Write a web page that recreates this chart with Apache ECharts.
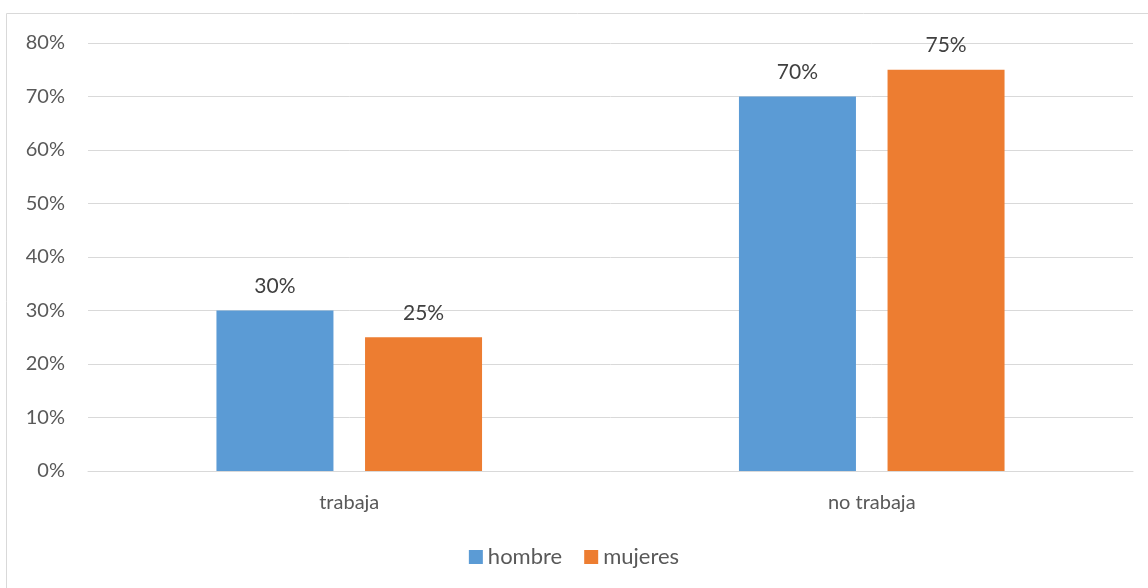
<!DOCTYPE html>
<html><head><meta charset="utf-8">
<script src="https://cdn.jsdelivr.net/npm/echarts@6/dist/echarts.min.js"></script>
<style>html,body{margin:0;padding:0;background:#fff}#c{width:1148px;height:588px}</style>
</head><body><div id="c"></div>
<script>
const categories = ['trabaja', 'no trabaja'];
const hombre = [30, 70];
const mujeres = [25, 75];
const seriesNames = ['hombre', 'mujeres'];

const FONT = 'Lato, "Open Sans", sans-serif';
const chart = echarts.init(document.getElementById('c'));
const labelOpt = {show: true, position: 'top', distance: 14, formatter: p => p.value + '%', color: '#404040', fontSize: 21, fontFamily: FONT};
chart.setOption({
  animation: false,
  graphic: [{type: 'rect', shape: {x: 6.5, y: 13.5, width: 1150, height: 590}, style: {fill: 'none', stroke: '#d9d9d9', lineWidth: 1}}],
  grid: {left: 88, right: 15, top: 43, bottom: 117},
  legend: {bottom: 15, left: 'center', itemWidth: 14, itemHeight: 14, itemGap: 22, icon: 'rect',
    textStyle: {color: '#595959', fontSize: 22, fontFamily: FONT}, data: seriesNames},
  xAxis: {type: 'category', data: categories,
    axisLine: {lineStyle: {color: '#d9d9d9', width: 1}}, axisTick: {show: false},
    axisLabel: {color: '#595959', fontSize: 20, fontFamily: FONT, margin: 22}},
  yAxis: {type: 'value', min: 0, max: 80, interval: 10,
    axisLabel: {formatter: '{value}%', color: '#595959', fontSize: 20, fontFamily: FONT, margin: 23},
    splitLine: {lineStyle: {color: '#d9d9d9', width: 1}}, axisLine: {show: false}, axisTick: {show: false}},
  series: [
    {name: seriesNames[0], type: 'bar', data: hombre, barWidth: 117, barGap: '27%', itemStyle: {color: '#5b9bd5'}, label: labelOpt},
    {name: seriesNames[1], type: 'bar', data: mujeres, barWidth: 117, itemStyle: {color: '#ed7d31'}, label: labelOpt}
  ]
});
</script></body></html>
